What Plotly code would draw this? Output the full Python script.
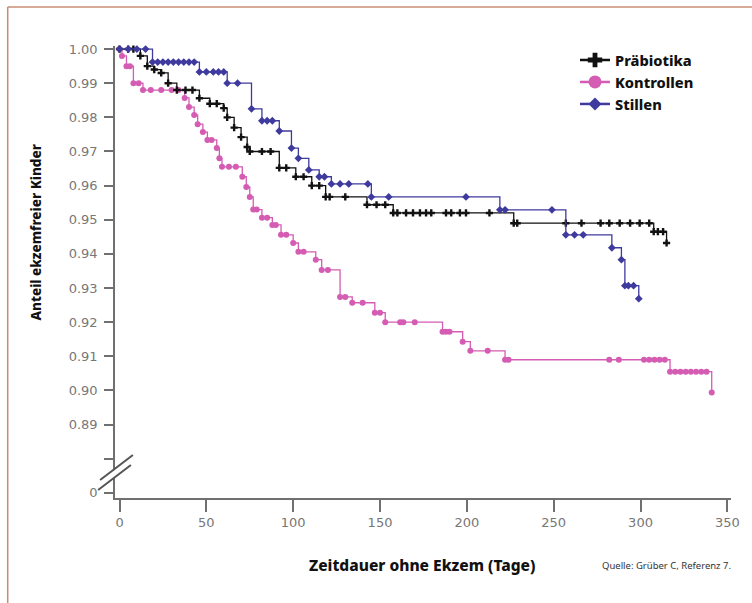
import plotly.graph_objects as go

# ---------------- data ----------------
prae_t = [0, 5, 8, 12, 16, 20, 24, 28, 33, 38,
          42, 46, 52, 56, 60, 62, 66, 70, 73.5, 75,
          82, 87, 92, 96, 101.5, 106, 110.7, 115, 118.7, 121,
          130, 142.5, 148, 153, 157.6, 160, 165, 169, 173, 176.5,
          179.5, 188, 191, 196, 199.5, 213, 227, 229, 257, 266,
          277, 282, 288, 294, 299.5, 305, 307.6, 310, 313, 315]
prae_s = [1.000, 1.000, 1.000, 0.998, 0.995, 0.994, 0.993, 0.990, 0.988, 0.988,
          0.988, 0.9856, 0.984, 0.984, 0.9827, 0.980, 0.977, 0.9742, 0.9713, 0.970,
          0.970, 0.970, 0.9652, 0.9652, 0.9626, 0.9626, 0.960, 0.960, 0.9567, 0.9567,
          0.9567, 0.9544, 0.9544, 0.9544, 0.952, 0.952, 0.952, 0.952, 0.952, 0.952,
          0.952, 0.952, 0.952, 0.952, 0.952, 0.952, 0.949, 0.949, 0.949, 0.949,
          0.949, 0.949, 0.949, 0.949, 0.949, 0.949, 0.9465, 0.9465, 0.9465, 0.9432]

kontr_t = [0, 1.4, 4, 6, 8, 11, 13.5, 18, 24, 30,
           34, 37.5, 40, 43, 45, 48, 50.6, 53, 56, 57.5,
           59, 63, 67, 70.7, 73, 75, 77, 79, 82, 85,
           88, 90, 93, 96, 100, 103, 106, 113, 116.4, 120,
           127, 130, 134, 140, 147, 150, 153, 161.6, 163.4, 170,
           186, 188, 190, 197.6, 202, 212, 222, 224, 282, 287.5,
           302, 305, 308, 311, 314, 317, 320, 323, 326, 329,
           332, 335, 338, 341]
kontr_s = [1.0, 0.998, 0.995, 0.995, 0.990, 0.990, 0.988, 0.988, 0.988, 0.988,
           0.988, 0.9857, 0.983, 0.9807, 0.978, 0.9757, 0.9734, 0.9734, 0.971, 0.968,
           0.9655, 0.9655, 0.9655, 0.9626, 0.9596, 0.9567, 0.953, 0.953, 0.9506, 0.9506,
           0.9485, 0.9485, 0.9456, 0.9456, 0.9432, 0.9406, 0.9406, 0.9383, 0.9353, 0.9353,
           0.9274, 0.9274, 0.9257, 0.9257, 0.9228, 0.9228, 0.920, 0.920, 0.920, 0.920,
           0.9172, 0.9172, 0.9172, 0.9143, 0.9116, 0.9116, 0.909, 0.909, 0.909, 0.909,
           0.909, 0.909, 0.909, 0.909, 0.909, 0.9055, 0.9055, 0.9055, 0.9055, 0.9055,
           0.9055, 0.9055, 0.9055, 0.8994]

still_t = [0, 5, 10, 15, 19, 22, 25, 28, 31, 34,
           37, 40, 43, 46, 50, 54, 57, 60, 62, 68,
           76, 82, 85, 88, 92, 99, 103, 109, 115, 118,
           122, 127, 132, 143, 145, 155, 199.5, 219, 222, 249,
           257, 262, 267, 283.5, 289, 291, 293, 296, 299]
still_s = [1.0, 1.0, 1.0, 1.0, 0.9962, 0.9962, 0.9962, 0.9962, 0.9962, 0.9962,
           0.9962, 0.9962, 0.9962, 0.9933, 0.9933, 0.9933, 0.9933, 0.9933, 0.990, 0.990,
           0.9825, 0.979, 0.979, 0.979, 0.976, 0.971, 0.968, 0.9646, 0.9626, 0.9626,
           0.9605, 0.9605, 0.9605, 0.9605, 0.9567, 0.9567, 0.9567, 0.9529, 0.9529, 0.9529,
           0.9456, 0.9456, 0.9456, 0.9418, 0.9383, 0.9307, 0.9307, 0.9307, 0.9269]

series_names = ["Präbiotika", "Kontrollen", "Stillen"]
x_ticks = [0, 50, 100, 150, 200, 250, 300, 350]
y_tickvals = [0.87, 0.88, 0.89, 0.90, 0.91, 0.92, 0.93, 0.94, 0.95, 0.96, 0.97, 0.98, 0.99, 1.00]
y_ticktext = ["0", "", "0.89", "0.90", "0.91", "0.92", "0.93", "0.94", "0.95",
              "0.96", "0.97", "0.98", "0.99", "1.00"]

# ---------------- styling ----------------
BLACK = "#111111"
PINK = "#d45cb3"
BLUE = "#3f3a9e"
AXIS = "#707070"
COND = "Noto Sans, Open Sans, DejaVu Sans Condensed, sans-serif"


def cond_font(size, color="#111111", bold=True):
    f = dict(family=COND, size=size, color=color)
    if bold:
        try:
            go.layout.annotation.Font(weight=800)
            f["weight"] = 800
        except Exception:
            f["family"] = "DejaVu Sans Condensed, sans-serif"
    return f


fig = go.Figure()


def km(t, s, name, color, symbol, msize):
    fig.add_trace(go.Scatter(
        x=t, y=s, mode="lines+markers", name=name, showlegend=False,
        line=dict(color=color, width=1.3, shape="hv"),
        marker=dict(symbol=symbol, size=msize, color=color, line=dict(width=0)),
        cliponaxis=False))


km(kontr_t, kontr_s, series_names[1], PINK, "circle", 6)
km(prae_t, prae_s, series_names[0], BLACK, "cross", 6)
km(still_t, still_s, series_names[2], BLUE, "diamond", 6)

# legend entries
for name, color, sym, sz in [(series_names[0], BLACK, "cross", 12),
                             (series_names[1], PINK, "circle", 13),
                             (series_names[2], BLUE, "diamond", 10)]:
    fig.add_trace(go.Scatter(x=[None], y=[None], mode="lines+markers", name=name,
                             line=dict(color=color, width=2.5),
                             marker=dict(symbol=sym, size=sz, color=color)))

# pixel -> paper helpers for decorations
L, R, T, B = 115, 735, 46, 498


def px(x):
    return (x - L) / (R - L)


def py(y):
    return (B - y) / (B - T)


shapes = []
# axis break: white gap + two slashes
shapes.append(dict(type="path", xref="paper", yref="paper",
                   path=f"M {px(100)} {py(481)} L {px(133)} {py(456)} L {px(131)} {py(465)} L {px(98)} {py(490)} Z",
                   fillcolor="white", line=dict(width=0), layer="above"))
shapes.append(dict(type="line", xref="paper", yref="paper",
                   x0=px(100), y0=py(480), x1=px(133), y1=py(455),
                   line=dict(color="#555555", width=2), layer="above"))
shapes.append(dict(type="line", xref="paper", yref="paper",
                   x0=px(98), y0=py(490), x1=px(131), y1=py(465),
                   line=dict(color="#555555", width=2), layer="above"))
# outer frame (top and left edges visible)
shapes.append(dict(type="line", xref="paper", yref="paper",
                   x0=px(7), y0=py(7), x1=px(800), y1=py(7),
                   line=dict(color="#c98c77", width=1.5)))
shapes.append(dict(type="line", xref="paper", yref="paper",
                   x0=px(7), y0=py(7), x1=px(7), y1=py(700),
                   line=dict(color="#c98c77", width=1.5)))

annotations = [
    dict(text="Anteil ekzemfreier Kinder", xref="paper", yref="paper",
         x=px(35), y=py(233), textangle=-90, showarrow=False,
         font=cond_font(13.5), xanchor="center", yanchor="middle"),
    dict(text="Zeitdauer ohne Ekzem (Tage)", xref="paper", yref="paper",
         x=px(424), y=py(565), showarrow=False,
         font=cond_font(15.5), xanchor="center", yanchor="middle"),
    dict(text="Quelle: Grüber C, Referenz 7.", xref="paper", yref="paper",
         x=px(737), y=py(565), showarrow=False,
         font=cond_font(9.5, "#333333", bold=False), xanchor="right", yanchor="middle"),
]

ytick_extra = {}
try:
    go.layout.YAxis(ticklabelstandoff=4)
    ytick_extra["ticklabelstandoff"] = 4
except Exception:
    pass

fig.update_layout(
    width=752, height=603,
    margin=dict(l=L, r=752 - R, t=T, b=603 - B, pad=0),
    paper_bgcolor="white", plot_bgcolor="white",
    showlegend=True,
    legend=dict(x=px(578), y=py(44), xanchor="left", yanchor="top",
                font=cond_font(14.6),
                itemwidth=30, bgcolor="rgba(0,0,0,0)", tracegroupgap=0),
    shapes=shapes, annotations=annotations,
    xaxis=dict(range=[-2.6, 352.1], tickvals=x_ticks, showgrid=False, zeroline=False,
               showline=True, linecolor=AXIS, linewidth=1.5,
               ticks="outside", ticklen=12, tickcolor=AXIS, tickwidth=1.5,
               tickfont=dict(family="DejaVu Sans", size=13, color="#777777")),
    yaxis=dict(range=[0.8685, 1.0009], tickvals=y_tickvals, ticktext=y_ticktext,
               showgrid=False, zeroline=False,
               showline=True, linecolor=AXIS, linewidth=1.5,
               ticks="outside", ticklen=9, tickcolor=AXIS, tickwidth=1.5,
               tickfont=dict(family="DejaVu Sans", size=13, color="#777777"),
               **ytick_extra),
)

fig.write_html("out.html", config={"displayModeBar": False},
               post_script="document.body.style.margin='0';")
